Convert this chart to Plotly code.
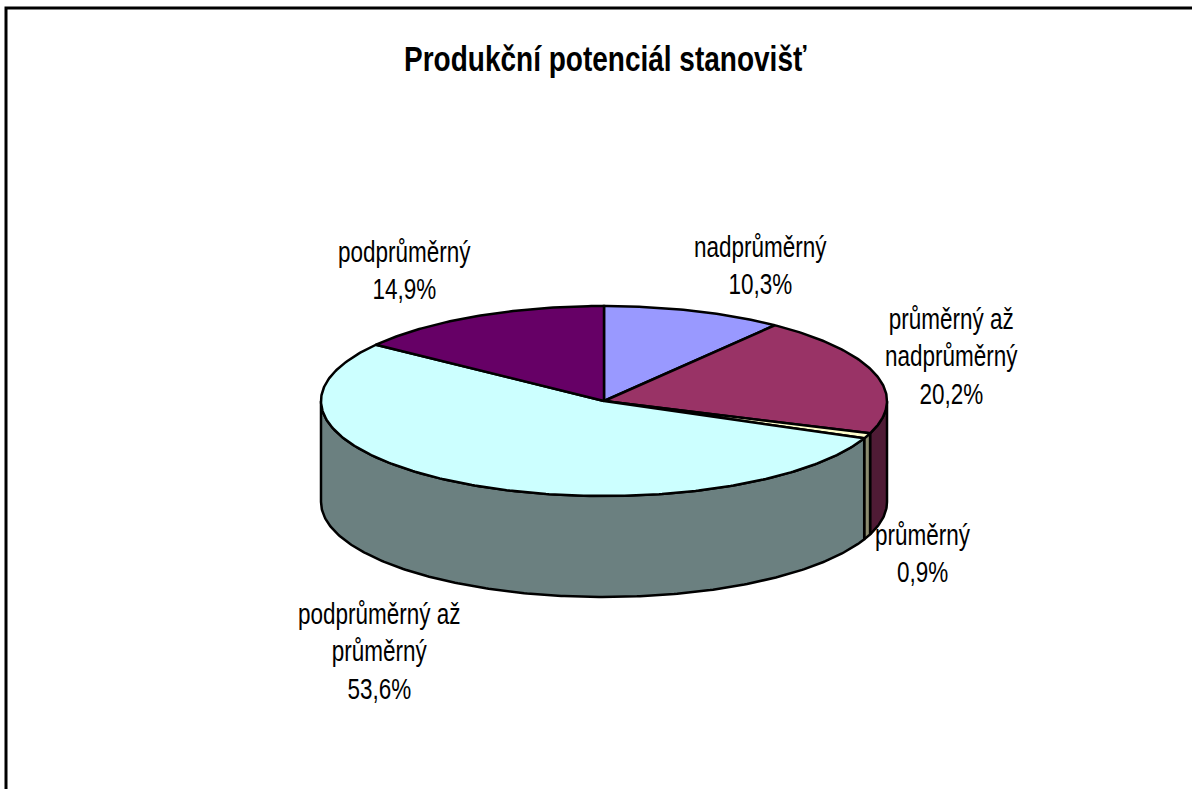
import numpy as np
import plotly.graph_objects as go

categories = ["nadprůměrný", "průměrný až<br>nadprůměrný", "průměrný", "podprůměrný až<br>průměrný", "podprůměrný"]
values = [10.3, 20.2, 0.9, 53.6, 14.9]
value_labels = ["10,3%", "20,2%", "0,9%", "53,6%", "14,9%"]
top_colors = ["#9999FF", "#993366", "#FFFFCC", "#CCFFFF", "#660066"]
side_colors = ["#6B6BB3", "#4F1B35", "#8C8C70", "#6B8080", "#330033"]
title_text = "Produkční potenciál stanovišť"

W, H = 1192, 789
CX, CY, RX, RY, DEPTH = 604, 401, 283, 95, 101
LINE = dict(color="black", width=2.5)

total = sum(values)
edges = np.concatenate([[0], np.cumsum(values)]) / total * 2 * np.pi


def rim(a0, a1, dy=0.0):
    t = np.linspace(a0, a1, max(3, int(abs(a1 - a0) * 90)))
    return CX + RX * np.sin(t), CY - RY * np.cos(t) + dy


fig = go.Figure()

# side walls (only the front half of the rim, angle between 90 and 270 degrees)
for i in range(len(values)):
    a0, a1 = max(edges[i], np.pi / 2), min(edges[i + 1], 3 * np.pi / 2)
    if a1 <= a0:
        continue
    xt, yt = rim(a0, a1)
    xb, yb = rim(a1, a0, DEPTH)
    fig.add_trace(go.Scatter(
        x=np.r_[xt, xb, xt[0]], y=np.r_[yt, yb, yt[0]], mode="lines", fill="toself",
        fillcolor=side_colors[i], line=LINE, hoverinfo="skip", showlegend=False))

# top slices
for i in range(len(values)):
    xt, yt = rim(edges[i], edges[i + 1])
    fig.add_trace(go.Scatter(
        x=np.r_[CX, xt, CX], y=np.r_[CY, yt, CY], mode="lines", fill="toself",
        fillcolor=top_colors[i], line=LINE, name=categories[i].replace("<br>", " "),
        hoverinfo="name", showlegend=False))

# label anchors, in page pixels
label_pos = [(760, 266), (951, 357), (923, 554), (379, 652), (404, 271)]
for cat, val, (lx, ly) in zip(categories, value_labels, label_pos):
    fig.add_annotation(x=lx, y=ly, text=f"{cat}<br>{val}", showarrow=False,
                       font=dict(family="Liberation Sans", size=22.5, color="black"),
                       xanchor="center", yanchor="middle", align="center")

fig.add_annotation(x=605, y=58, text=f"<b>{title_text}</b>", showarrow=False,
                   font=dict(family="Liberation Sans", size=28, color="black"),
                   xanchor="center", yanchor="middle")

# chart frame: only the top and left edges are inside the photographed window
fig.add_trace(go.Scatter(x=[6, 6, W], y=[H, 8, 8], mode="lines",
                         line=dict(color="black", width=3), hoverinfo="skip", showlegend=False))

fig.update_layout(
    width=W, height=H, margin=dict(l=0, r=0, t=0, b=0),
    paper_bgcolor="white", plot_bgcolor="white",
    xaxis=dict(range=[0, W], visible=False, fixedrange=True),
    yaxis=dict(range=[H, 0], visible=False, fixedrange=True),
)
# the reference lettering is condensed: stretch the real text vertically about its own centre
stretch = (
    "document.body.style.margin='0';document.documentElement.style.overflow='hidden';"
    "document.querySelectorAll('.annotation-text').forEach(function(t){"
    "t.style.transformBox='fill-box';t.style.transformOrigin='center';t.style.transform='scaleY(1.27)';});"
)
fig.write_html("out.html", config={"displayModeBar": False}, post_script=stretch)
